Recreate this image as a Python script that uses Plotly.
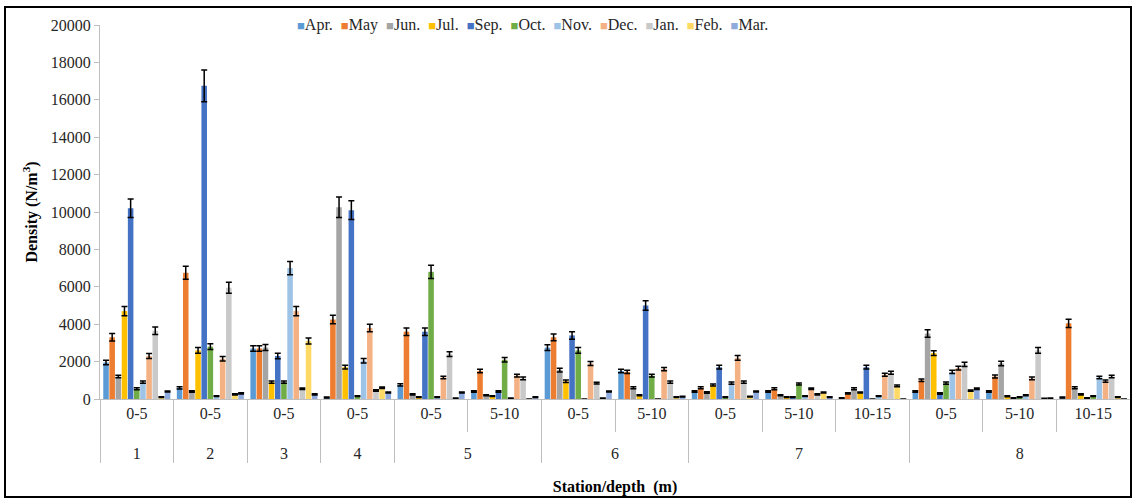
import plotly.graph_objects as go

# Station / depth categories (outer = station, inner = depth in m)
stations = ["1", "2", "3", "4", "5", "5", "6", "6", "7", "7", "7", "8", "8", "8"]
depths = ["0-5", "0-5", "0-5", "0-5", "0-5", "5-10", "0-5", "5-10",
          "0-5", "5-10", "10-15", "0-5", "5-10", "10-15"]

months = ["Apr.", "May", "Jun.", "Jul.", "Sep.", "Oct.", "Nov.", "Dec.", "Jan.", "Feb.", "Mar."]
colors = ["#5B9BD5", "#ED7D31", "#A5A5A5", "#FFC000", "#4472C4", "#70AD47",
          "#9DC3E6", "#F4B183", "#C9C9C9", "#FFD966", "#8FAADC"]

# Mean density (N/m3) per month, one value per station/depth
apr = [1950, 600, 2700, 80, 750, 400, 2750, 1500, 400, 400, 50, 400, 400, 80]
may = [3300, 6750, 2700, 4250, 3600, 1500, 3300, 1450, 600, 550, 300, 1000, 1200, 4050]
jun = [1200, 400, 2750, 10250, 250, 200, 1550, 600, 350, 200, 550, 3500, 1900, 600]
jul = [4700, 2600, 900, 1700, 100, 150, 950, 200, 750, 100, 350, 2450, 150, 250]
sep = [10200, 16750, 2300, 10100, 3600, 400, 3400, 5000, 1700, 100, 1700, 300, 50, 50]
oct_ = [550, 2800, 900, 150, 6800, 2100, 2600, 1250, 100, 800, 0, 850, 100, 150]
nov = [900, 150, 7000, 2050, 100, 50, 0, 0, 850, 150, 150, 1450, 200, 1150]
dec = [2300, 2150, 4700, 3800, 1150, 1250, 1900, 1600, 2200, 550, 1300, 1650, 1100, 950]
jan = [3650, 5950, 550, 450, 2400, 1100, 850, 900, 900, 250, 1400, 1850, 2600, 1200]
feb = [100, 250, 3100, 600, 50, 0, 50, 100, 130, 350, 700, 450, 30, 100]
mar = [400, 300, 250, 350, 350, 100, 400, 130, 400, 100, 0, 550, 50, 0]

# Standard errors
apr_err = [120, 60, 150, 30, 60, 40, 150, 90, 40, 40, 20, 40, 40, 30]
may_err = [200, 350, 150, 230, 200, 90, 180, 90, 50, 50, 30, 70, 80, 220]
jun_err = [70, 40, 160, 550, 30, 30, 100, 50, 40, 30, 50, 200, 120, 50]
jul_err = [250, 150, 60, 100, 20, 20, 70, 30, 50, 20, 30, 130, 30, 30]
sep_err = [500, 850, 150, 500, 200, 40, 200, 260, 100, 20, 100, 40, 20, 20]
oct_err = [50, 150, 60, 20, 350, 120, 150, 80, 20, 50, 0, 60, 20, 20]
nov_err = [60, 20, 350, 120, 20, 10, 0, 0, 60, 20, 20, 90, 30, 70]
dec_err = [130, 120, 250, 200, 70, 70, 110, 90, 130, 40, 80, 100, 70, 60]
jan_err = [200, 300, 40, 40, 130, 70, 50, 60, 60, 30, 80, 110, 150, 70]
feb_err = [20, 30, 160, 40, 10, 0, 10, 20, 20, 30, 50, 30, 10, 20]
mar_err = [30, 30, 30, 30, 30, 20, 30, 20, 30, 20, 0, 40, 10, 0]

values = [apr, may, jun, jul, sep, oct_, nov, dec, jan, feb, mar]
errors = [apr_err, may_err, jun_err, jul_err, sep_err, oct_err, nov_err,
          dec_err, jan_err, feb_err, mar_err]

y_ticks = list(range(0, 20001, 2000))

FONT = "Liberation Serif"

# Station labels sit one text line lower than the depth labels
station_labels = ["<br>" + s for s in stations]

fig = go.Figure()
for name, col, v, e in zip(months, colors, values, errors):
    fig.add_trace(go.Bar(
        name=name,
        x=[station_labels, depths],
        y=v,
        marker=dict(color=col, line=dict(width=0)),
        error_y=dict(type="data", array=e, visible=True,
                     color="#000000", thickness=1.5, width=3),
        showlegend=False,
    ))

# Legend row written as coloured squares followed by the month names
legend_text = "&nbsp;&nbsp;".join(
    f"<span style='color:{c}; font-size:13px'>■</span>{m}" for m, c in zip(months, colors)
)
fig.add_annotation(
    x=(532 - 100) / 1030, y=1.0, xref="paper", yref="paper", xanchor="center", yanchor="middle",
    text=legend_text, showarrow=False, font=dict(family=FONT, size=16, color="#262626"),
)

# Outer frame around the whole chart
fig.add_shape(type="rect", xref="paper", yref="paper",
              x0=(5 - 100) / 1030, x1=(1131 - 100) / 1030,
              y0=(399 - 497) / 374, y1=(399 - 7) / 374,
              line=dict(color="#000000", width=2), fillcolor="rgba(0,0,0,0)")

fig.update_layout(
    width=1135, height=499,
    margin=dict(l=100, r=5, t=25, b=100),
    paper_bgcolor="white", plot_bgcolor="white",
    barmode="group", bargap=0.08, bargroupgap=0.1,
    font=dict(family=FONT, size=16, color="#262626"),
    xaxis=dict(
        type="multicategory",
        showline=True, linecolor="#BFBFBF", linewidth=1,
        ticks="outside", tickson="boundaries", ticklen=32, tickcolor="#BFBFBF",
        showdividers=True, dividercolor="#BFBFBF", dividerwidth=1,
        tickfont=dict(family=FONT, size=16, color="#262626"),
        title=dict(text="<b>Station/depth  (m)</b>", font=dict(family=FONT, size=16, color="#000000"),
                   standoff=19),
        showgrid=False,
    ),
    yaxis=dict(
        range=[0, 20000], tickvals=y_ticks, tickformat="d",
        showline=True, linecolor="#BFBFBF", linewidth=1,
        ticks="outside", ticklen=5, tickcolor="#BFBFBF",
        showgrid=False, zeroline=False,
        tickfont=dict(family=FONT, size=16, color="#262626"),
        title=dict(text="<b>Density (N/m<sup>3</sup>)</b>", font=dict(family=FONT, size=16, color="#000000"),
                   standoff=9),
    ),
)

fig.write_html("out.html")
